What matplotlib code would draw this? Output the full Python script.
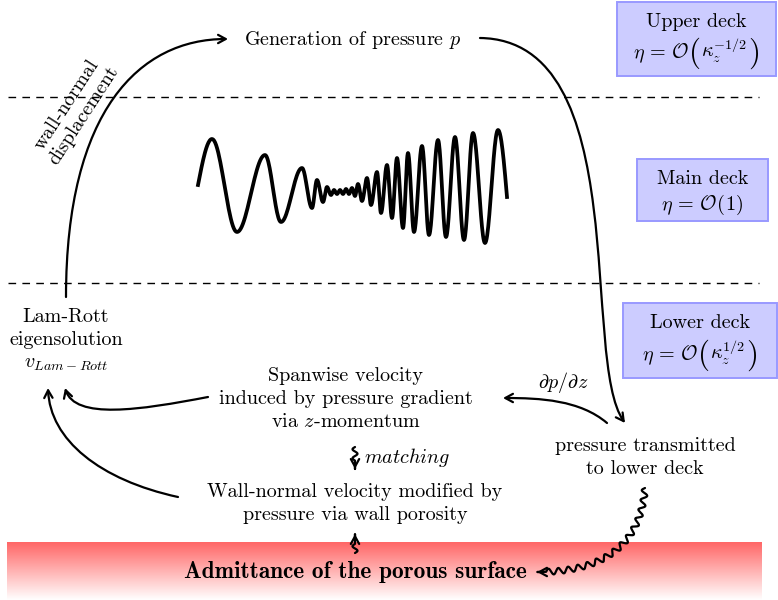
import numpy as np
import matplotlib.pyplot as plt
from matplotlib.patches import FancyArrowPatch, Rectangle
from matplotlib.path import Path

plt.rcParams['mathtext.fontset'] = 'cm'
plt.rcParams['font.family'] = 'serif'
plt.rcParams['font.serif'] = ['cmr10']
plt.rcParams['axes.unicode_minus'] = False

# wave packet in the main deck: extrema (pixels)
wave_x = [198, 212, 237, 265, 281, 302, 312, 317, 323, 327, 331, 334, 337, 340,
          343, 346, 349, 352, 355, 358, 362, 367, 371, 377, 381, 387, 392, 397,
          403, 408, 414, 422, 429, 438, 446, 455, 464, 473, 485, 498, 507]
wave_y = [185, 139, 232, 155, 222, 168, 208, 180, 202, 187, 195, 190, 194, 190,
          194, 189, 194, 188, 196, 184, 201, 178, 205, 172, 213, 165, 218, 158,
          228, 153, 232, 146, 235, 140, 237, 137, 240, 133, 243, 130, 197]

deck_names = ["Upper deck", "Main deck", "Lower deck"]
deck_inner = [r"$\kappa_z^{-1/2}$", r"$1$", r"$\kappa_z^{1/2}$"]

txt_generation = r"Generation of pressure $p$"
txt_lamrott = ["Lam-Rott", "eigensolution"]
txt_vlr = r"$v_{Lam-Rott}$"
txt_spanwise = ["Spanwise velocity", "induced by pressure gradient", "via $z$-momentum"]
txt_wallnormal = ["Wall-normal velocity modified by", "pressure via wall porosity"]
txt_transmitted = ["pressure transmitted", "to lower deck"]
txt_dpdz = r"$\partial p/\partial z$"
txt_matching = r"$\mathit{matching}$"
txt_admittance = "Admittance of the porous surface"
txt_displacement = "wall-normal\ndisplacement"

FS = 14.5
LW = 1.6
ASTYLE = '->,head_length=5.5,head_width=3'

fig = plt.figure(figsize=(7.78, 6.0), dpi=100)
ax = fig.add_axes([0, 0, 1, 1])
ax.set_xlim(0, 778)
ax.set_ylim(600, 0)
ax.axis('off')
rend = fig.canvas.get_renderer()


def lines(x, baselines, strings, **kw):
    for yb, s in zip(baselines, strings):
        ax.text(x, yb, s, ha='center', va='baseline', fontsize=FS, **kw)


def row(xc, yb, pieces):
    # pieces: (text, size, big) placed one after another, centred on xc
    objs = []
    for s, size, big in pieces:
        if big:
            t = ax.text(0, yb - 5, s, ha='left', va='center', fontsize=size)
        else:
            t = ax.text(0, yb, s, ha='left', va='baseline', fontsize=size)
        objs.append(t)
    widths = [t.get_window_extent(renderer=rend).width for t in objs]
    x = xc - sum(widths) / 2
    for t, w in zip(objs, widths):
        t.set_x(x)
        x += w


def bez_arrow(p0, p1, p2, p3):
    path = Path([p0, p1, p2, p3], [Path.MOVETO, Path.CURVE4, Path.CURVE4, Path.CURVE4])
    a = FancyArrowPatch(path=path, arrowstyle=ASTYLE, lw=LW, color='k')
    ax.add_patch(a)


def snake_arrow(p0, p1, p2, p3, amp=3.0, lam=9.0, tail=8.0):
    t = np.linspace(0, 1, 600)[:, None]
    pts = ((1 - t) ** 3 * np.array(p0) + 3 * (1 - t) ** 2 * t * np.array(p1)
           + 3 * (1 - t) * t ** 2 * np.array(p2) + t ** 3 * np.array(p3))
    d = np.diff(pts, axis=0)
    seg = np.hypot(d[:, 0], d[:, 1])
    s = np.concatenate([[0], np.cumsum(seg)])
    L = s[-1]
    nhalf = int((L - tail) / (lam / 2))
    send = nhalf * lam / 2
    tang = np.gradient(pts, axis=0)
    tang /= np.hypot(tang[:, 0], tang[:, 1])[:, None]
    nrm = np.column_stack([-tang[:, 1], tang[:, 0]])
    off = np.where(s < send, amp * np.sin(2 * np.pi * s / lam), 0.0)
    wpts = pts + nrm * off[:, None]
    a = FancyArrowPatch(path=Path(wpts), arrowstyle=ASTYLE, lw=LW, color='k')
    ax.add_patch(a)


# red porous surface band
g = np.linspace(0, 1, 200)[:, None, None]
top = np.array([1.0, 0.40, 0.40])
img = top * (1 - g) + np.ones(3) * g
ax.imshow(img, extent=[7, 762, 600, 542], aspect='auto', zorder=0)

# deck boundaries
for yd in [97, 283]:
    ax.plot([8, 759], [yd, yd], color='k', lw=1.0, dashes=(5.5, 4.5))

# deck boxes
boxes = [(617, 2, 159, 74), (637, 159, 131, 62), (623, 303, 154, 75)]
name_base = [27, 184, 328]
eta_base = [58, 210, 360]
for i, (bx, by, bw, bh) in enumerate(boxes):
    ax.add_patch(Rectangle((bx, by), bw, bh, fc='#ccccff', ec='#9999ff', lw=1.4))
    cx = bx + bw / 2
    ax.text(cx, name_base[i], deck_names[i], ha='center', va='baseline', fontsize=FS)
    big = i != 1
    psize = FS * 1.55 if big else FS
    row(cx, eta_base[i], [(r"$\eta\, = \,\mathcal{O}\,$", FS, False),
                          ("(", psize, big),
                          (deck_inner[i], FS, False),
                          (")", psize, big)])

# wave packet
xs, ys = [], []
n = len(wave_x)
for i in range(n - 1):
    s = np.linspace(0, 1, 25)
    if i == 0:
        f = np.sin(np.pi / 2 * s)
    elif i == n - 2:
        f = 1 - np.cos(np.pi / 2 * s)
    else:
        f = (1 - np.cos(np.pi * s)) / 2
    xs.append(wave_x[i] + (wave_x[i + 1] - wave_x[i]) * s)
    ys.append(wave_y[i] + (wave_y[i + 1] - wave_y[i]) * f)
ax.plot(np.concatenate(xs), np.concatenate(ys), color='k', lw=2.7,
        solid_joinstyle='round')

# texts
ax.text(353, 45, txt_generation, ha='center', va='baseline', fontsize=FS)
lines(66, [322, 345], txt_lamrott)
ax.text(66, 368, txt_vlr, ha='center', va='baseline', fontsize=FS)
lines(346, [381, 404, 427], txt_spanwise)
lines(355, [497, 520], txt_wallnormal)
lines(645, [451, 474], txt_transmitted)
ax.text(563, 388, txt_dpdz, ha='center', va='baseline', fontsize=FS)
ax.text(364, 463, txt_matching, ha='left', va='baseline', fontsize=FS)
ax.text(355, 578, txt_admittance, ha='center', va='baseline', fontsize=16.8,
        family='cmb10')
ax.text(75, 110, txt_displacement, ha='center', va='center', fontsize=FS,
        rotation=57, rotation_mode='anchor', linespacing=1.15)

# arrows
bez_arrow((66, 297), (66, 110), (140, 39), (228, 39))
bez_arrow((480, 38), (635, 40), (580, 360), (625, 423))
bez_arrow((607, 423), (580, 400), (540, 398), (503, 398))
bez_arrow((208, 397), (140, 410), (75, 420), (65, 388))
bez_arrow((178, 497), (100, 480), (50, 440), (48, 388))

snake_arrow((355, 447), (355, 454), (355, 461), (355, 469), amp=2.5, lam=9, tail=7)
snake_arrow((355, 553), (355, 547), (355, 541), (355, 534), amp=2.5, lam=9, tail=7)
snake_arrow((645, 488), (640, 555), (590, 572), (537, 572), amp=3, lam=10, tail=8)

fig.savefig('out.png', dpi=100)
